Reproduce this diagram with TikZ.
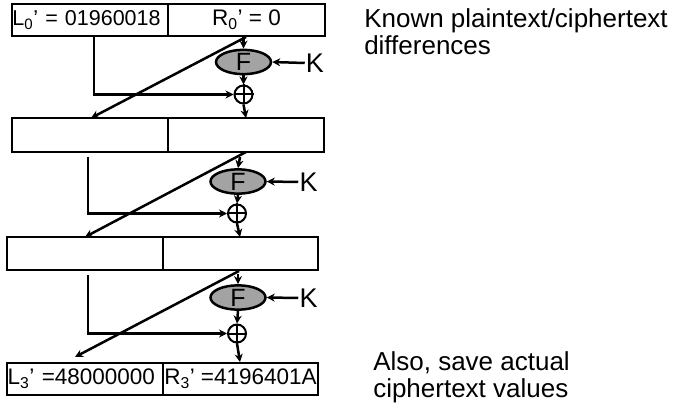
\documentclass[tikz,border=0pt]{standalone}
\usepackage{fontspec}
\setmainfont{Liberation Sans}
\usetikzlibrary{shapes.geometric,arrows.meta}
\begin{document}
\begin{tikzpicture}[x=1pt,y=-1pt,line width=2.5pt,
  half/.style={draw,minimum height=32pt,inner sep=1pt,font=\fontsize{22.5}{24}\selectfont},
  fbox/.style={ellipse,draw,fill=gray!72,minimum width=55pt,minimum height=24pt,inner sep=0pt,font=\fontsize{25}{25}\selectfont},
  xorc/.style={circle,draw,line width=2pt,minimum size=18pt,inner sep=0pt},
  keyl/.style={font=\fontsize{27}{27}\selectfont,inner sep=0pt},
  arr/.style={-{Stealth[length=8pt,width=8pt]}},
  note/.style={align=left,anchor=base west,font=\fontsize{26}{27}\selectfont,inner sep=0pt}]
\useasboundingbox (0,0) rectangle (677,406);

% half-blocks
\node[half,minimum width=156pt,text width=155pt,inner sep=0.5pt,align=left,font=\fontsize{21.5}{24}\selectfont] (L0) at (90,20) {L\textsubscript{0}’ = 01960018};
\node[half,minimum width=157pt] (R0) at (246.5,20) {R\textsubscript{0}’ = 0};
\node[half,minimum width=156pt,minimum height=34pt] (L1) at (90,135) {};
\node[half,minimum width=156pt,minimum height=34pt] (R1) at (246,135) {};
\node[half,minimum width=156pt,minimum height=33pt] (L2) at (85,253.5) {};
\node[half,minimum width=155pt,minimum height=33pt] (R2) at (240.5,253.5) {};
\node[half,minimum width=156pt,text width=155pt,inner sep=0.5pt,align=left] (L3) at (85,379) {L\textsubscript{3}’ =48000000};
\node[half,minimum width=155pt] (R3) at (240.5,379) {R\textsubscript{3}’ =4196401A};

% round functions
\node[fbox] (F1) at (243.5,62) {F};
\node[fbox] (F2) at (238,181.5) {F};
\node[fbox] (F3) at (238,297.5) {F};
\node[xorc] (X1) at (243.5,94.5) {};
\node[xorc] (X2) at (237,213.5) {};
\node[xorc] (X3) at (237,333.5) {};
\foreach \x in {X1,X2,X3} \draw[line width=2pt] (\x.north)--(\x.south) (\x.west)--(\x.east);
\node[keyl] (K1) at (315,63) {K};
\node[keyl] (K2) at (308.5,182) {K};
\node[keyl] (K3) at (308.5,298) {K};

% round 1
\draw[arr] (F1.north |- R0.south) -- (F1.north);
\draw[arr] (K1.west) -- (F1.east);
\draw[arr] (F1.south) -- (X1.north);
\coordinate (x1e) at (246,118);
\draw[arr] (X1.south) -- (x1e);
\coordinate (a1) at (94,36);
\draw[arr] (a1) |- (X1.west);
\coordinate (d1s) at (246,37);
\coordinate (d1e) at (91,118);
\draw[arr] (d1s) -- (d1e);

% round 2
\coordinate (t2) at (240,157);
\draw[arr] (t2) -- (F2.north);
\draw[arr] (K2.west) -- (F2.east);
\draw[arr] (F2.south) -- (X2.north);
\coordinate (x2e) at (240,237);
\draw[arr] (X2.south) -- (x2e);
\coordinate (a2) at (88,157);
\draw[arr] (a2) |- (X2.west);
\coordinate (d2s) at (246,152);
\coordinate (d2e) at (85,237);
\draw[arr] (d2s) -- (d2e);

% round 3
\coordinate (t3) at (238,274);
\draw[arr] (t3) -- (F3.north);
\draw[arr] (K3.west) -- (F3.east);
\draw[arr] (F3.south) -- (X3.north);
\coordinate (x3e) at (240,362);
\draw[arr] (X3.south) -- (x3e);
\coordinate (a3) at (88,275);
\draw[arr] (a3) |- (X3.west);
\coordinate (d3s) at (239,271);
\coordinate (d3e) at (75,357);
\draw[arr] (d3s) -- (d3e);

% notes
\node[note] (n1) at (363,55) {Known plaintext/ciphertext\\differences};
\node[note] (n2) at (372,397) {Also, save actual\\ciphertext values};
\end{tikzpicture}
\end{document}
